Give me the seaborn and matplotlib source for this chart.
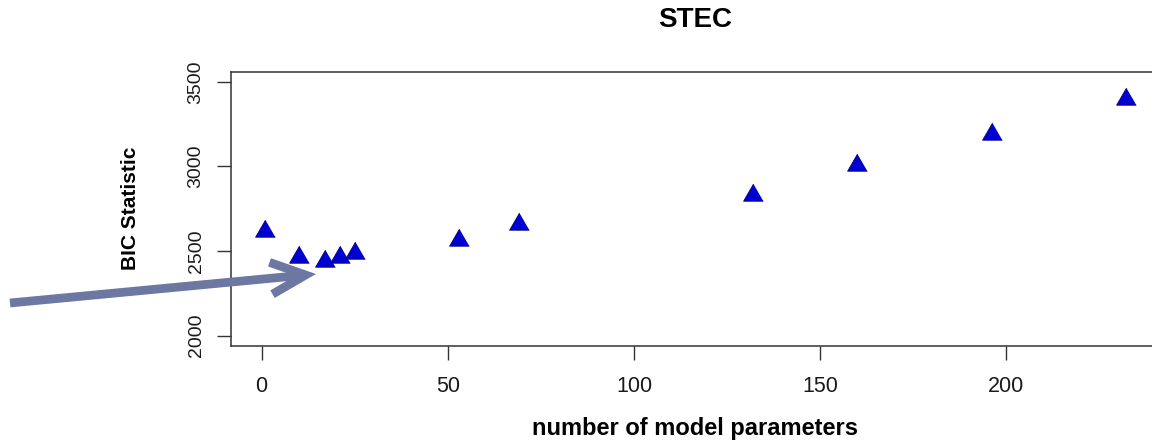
import matplotlib
matplotlib.use("Agg")
import matplotlib.pyplot as plt
import seaborn as sns
import pandas as pd

# Data
n_params = [1, 10, 17, 21, 25, 53, 69, 132, 160, 196, 232]
bic_values = [2620, 2467, 2440, 2465, 2491, 2565, 2659, 2832, 3010, 3190, 3400]
x_ticks = [0, 50, 100, 150, 200]
y_ticks = [2000, 2500, 3000, 3500]
title_text = "STEC"
x_label = "number of model parameters"
y_label = "BIC Statistic"

df = pd.DataFrame({"params": n_params, "bic": bic_values})

sns.set_style("ticks")
plt.rcParams["font.family"] = ["Liberation Sans", "DejaVu Sans"]
plt.rcParams["text.color"] = "black"
plt.rcParams["axes.labelcolor"] = "black"

W, H = 1152, 448
fig = plt.figure(figsize=(W / 100, H / 100), dpi=100)
fig.patch.set_facecolor("white")

left_px, right_px, top_px, bottom_px = 231, 1160, 71.7, 345.7
ax = fig.add_axes([left_px / W, 1 - bottom_px / H,
                   (right_px - left_px) / W, (bottom_px - top_px) / H])

tri = [(0.0, 1.0), (-0.8660254, -0.5), (0.8660254, -0.5)]
sns.scatterplot(data=df, x="params", y="bic", ax=ax, marker=tri, s=270,
                color="#0000d0", edgecolor="#00007a", linewidth=0.6, zorder=3)

xr = max(n_params) - min(n_params)
ax.set_xlim(min(n_params) - 0.04 * xr, max(n_params) + 0.04 * xr)
yr = 3500 - 2000
ax.set_ylim(2000 - 0.04 * yr, 3500 + 0.04 * yr)
ax.set_xticks(x_ticks)
ax.set_yticks(y_ticks)

for sp in ax.spines.values():
    sp.set_color("#333333")
    sp.set_linewidth(1.1)

ax.tick_params(axis="both", direction="out", length=10, width=1.0,
               color="#333333", labelcolor="#1a1a1a")
ax.tick_params(axis="x", pad=12, labelsize=15.5)
ax.tick_params(axis="y", pad=9, labelrotation=90, labelsize=14)
for lab in ax.get_yticklabels():
    lab.set_va("center")

ax.set_xlabel(x_label, fontsize=17, fontweight="bold", va="center",
              color="black")
ax.xaxis.set_label_coords((695 - left_px) / (right_px - left_px),
                          -(428 - bottom_px) / (bottom_px - top_px))
ax.set_ylabel(y_label, fontsize=15, fontweight="bold", va="center",
              color="black")
ax.yaxis.set_label_coords(-(left_px - 131) / (right_px - left_px), 0.5)
ax.set_title(title_text, fontsize=20, fontweight="bold", va="center",
             color="black", pad=0,
             y=(bottom_px - 20) / (bottom_px - top_px))

ax.annotate("", xy=(316, H - 274), xycoords="figure pixels",
            xytext=(10, H - 303), textcoords="figure pixels",
            annotation_clip=False,
            arrowprops=dict(arrowstyle="->,head_length=25,head_width=11.5",
                            mutation_scale=1, color="#6c78a1", lw=6.3,
                            shrinkA=0, shrinkB=0, capstyle="butt",
                            joinstyle="miter"))

fig.savefig("out.png", dpi=100, facecolor="white")
